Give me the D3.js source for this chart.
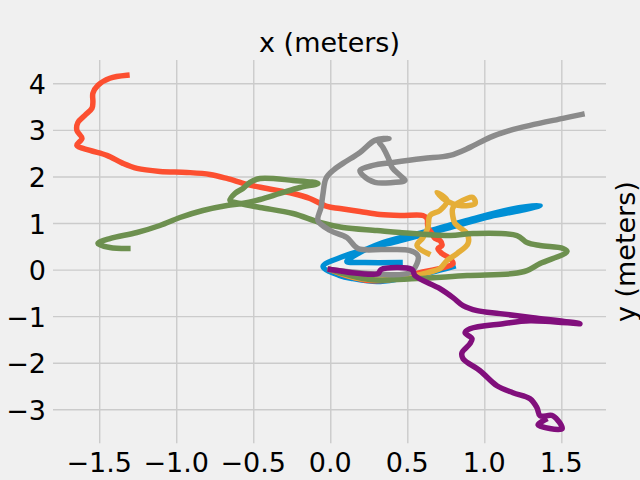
<!DOCTYPE html>
<html><head><meta charset="utf-8">
<script src="https://cdn.jsdelivr.net/npm/d3@7"></script>
<style>html,body{margin:0;padding:0;background:#f0f0f0;}svg{display:block;}</style>
</head><body>
<svg id="chart" width="640" height="480"></svg>
<script>
// ---- data (meters) ----
const xTicks = [-1.5, -1.0, -0.5, 0.0, 0.5, 1.0, 1.5];
const yTicks = [-3, -2, -1, 0, 1, 2, 3, 4];

const blueX = [0.453,0.225,0.108,0.147,0.342,0.628,0.888,1.167,1.362,1.264,1.037,0.777,0.453,0.225,0.082,-0.047,0.063,0.147,0.303,0.453,0.647,0.797];
const blueY = [0.151,0.151,0.172,0.280,0.581,0.817,1.054,1.290,1.376,1.290,1.140,0.903,0.624,0.430,0.280,0.065,-0.129,-0.194,-0.258,-0.194,-0.065,0.065];

const redX = [0,0.128,0.258,0.388,0.453,0.582,0.732,0.797,0.777,0.725,0.699,0.725,0.712,0.680,0.660,0.634,0.628,0.602,0.453,0.323,0.193,0.063,-0.021,-0.132,-0.242,-0.411,-0.541,-0.671,-0.781,-0.931,-1.106,-1.255,-1.346,-1.450,-1.560,-1.645,-1.612,-1.645,-1.638,-1.593,-1.547,-1.541,-1.541,-1.508,-1.431,-1.320];
const redY = [0,-0.151,-0.237,-0.215,-0.151,-0.065,0.043,0.129,0.237,0.344,0.452,0.516,0.624,0.667,0.774,0.903,1.097,1.161,1.161,1.183,1.247,1.312,1.355,1.527,1.634,1.742,1.828,1.957,2.043,2.086,2.108,2.172,2.280,2.452,2.559,2.667,2.817,2.989,3.161,3.312,3.462,3.591,3.785,3.957,4.108,4.172];

const yellowX = [0,0.193,0.388,0.518,0.634,0.712,0.758,0.823,0.894,0.888,0.849,0.810,0.797,0.797,0.888,0.927,0.940,0.842,0.777,0.732,0.693,0.758,0.712,0.647,0.634,0.602,0.563,0.634];
const yellowY = [0,-0.194,-0.215,-0.151,-0.065,0.022,0.194,0.344,0.559,0.774,0.882,0.989,1.118,1.333,1.527,1.548,1.419,1.376,1.441,1.527,1.656,1.484,1.269,1.161,0.903,0.688,0.516,0.344];

const greenX = [0,0.258,0.563,0.888,1.186,1.277,1.362,1.537,1.511,1.362,1.277,1.212,0.927,0.777,0.453,0.303,0.082,-0.067,-0.242,-0.456,-0.586,-0.651,-0.619,-0.567,-0.521,-0.456,-0.242,-0.080,-0.197,-0.327,-0.456,-0.573,-0.671,-0.827,-0.976,-1.106,-1.255,-1.431,-1.508,-1.431,-1.314];
const greenY = [0,-0.215,-0.194,-0.129,-0.086,-0.022,0.129,0.387,0.452,0.516,0.581,0.731,0.774,0.731,0.796,0.839,0.903,1.011,1.204,1.333,1.419,1.484,1.634,1.742,1.871,1.957,1.914,1.849,1.763,1.634,1.505,1.419,1.376,1.269,1.118,0.946,0.796,0.667,0.559,0.473,0.452];

const grayX = [0,0.355,0.518,0.563,0.569,0.518,0.342,0.180,0.108,0.0,-0.080,-0.060,-0.047,-0.028,0.018,0.082,0.193,0.290,0.381,0.316,0.342,0.375,0.401,0.453,0.485,0.407,0.290,0.212,0.193,0.277,0.407,0.602,0.777,0.907,1.037,1.167,1.297,1.511,1.634];
const grayY = [0,-0.108,-0.065,0.129,0.301,0.409,0.430,0.452,0.688,0.839,1.054,1.333,1.634,1.957,2.129,2.280,2.516,2.774,2.817,2.753,2.624,2.409,2.194,2.022,1.914,1.871,1.871,2.022,2.129,2.237,2.301,2.387,2.452,2.624,2.839,2.989,3.097,3.247,3.333];

const purpleX = [0,0.310,0.329,0.531,0.550,0.712,0.797,0.862,0.953,1.102,1.316,1.621,1.297,1.121,0.907,0.875,0.920,0.907,0.855,0.862,0.972,1.082,1.186,1.297,1.342,1.362,1.446,1.505,1.349,1.394];
const purpleY = [0,-0.086,0.0,0.0,-0.129,-0.409,-0.602,-0.774,-0.882,-0.946,-1.032,-1.161,-1.097,-1.161,-1.269,-1.355,-1.484,-1.591,-1.785,-1.914,-2.172,-2.495,-2.645,-2.774,-2.968,-3.140,-3.140,-3.419,-3.333,-3.226];

const seriesNames = ["blue","red","yellow","green","gray","purple"];
const seriesX = [blueX, redX, yellowX, greenX, grayX, purpleX];
const seriesY = [blueY, redY, yellowY, greenY, grayY, purpleY];
const colors = ["#008fd5","#fc4f30","#e5ae38","#6d904f","#8b8b8b","#810f7c"];

// ---- layout ----
const L = 53, R = 606, T = 60, B = 443.3;
const svg = d3.select("#chart");
svg.append("rect").attr("width",640).attr("height",480).attr("fill","#f0f0f0");

const x = d3.scaleLinear().domain([-1.80, 1.79]).range([L, R]);
const y = d3.scaleLinear().domain([-3.73, 4.50]).range([B, T]);

const font = "DejaVu Sans, sans-serif";

// grid via axes
const gx = svg.append("g").attr("transform", `translate(0,${B})`)
  .call(d3.axisBottom(x).tickValues(xTicks).tickSize(-(B - T)).tickFormat(""));
const gy = svg.append("g").attr("transform", `translate(${L},0)`)
  .call(d3.axisLeft(y).tickValues(yTicks).tickSize(-(R - L)).tickFormat(""));
[gx, gy].forEach(g => {
  g.select(".domain").remove();
  g.selectAll(".tick line").attr("stroke", "#cbcbcb").attr("stroke-width", 1.4);
});

const fmtX = d => (d < 0 ? "\u2212" : "") + Math.abs(d).toFixed(1);
const fmtY = d => (d < 0 ? "\u2212" : "") + Math.abs(d);

svg.append("g").selectAll("text").data(xTicks).join("text")
  .attr("x", d => x(d)).attr("y", 472)
  .attr("text-anchor", "middle").attr("font-family", font).attr("font-size", 27)
  .attr("fill", "#000").text(fmtX);
svg.append("g").selectAll("text").data(yTicks).join("text")
  .attr("x", 46).attr("y", d => y(d) + 10.5)
  .attr("text-anchor", "end").attr("font-family", font).attr("font-size", 27)
  .attr("fill", "#000").text(fmtY);

// lines
const line = d3.line().x(d => x(d[0])).y(d => y(d[1])).curve(d3.curveCatmullRom.alpha(0.5));
const plot = svg.append("g");
seriesNames.forEach((n, i) => {
  const pts = seriesX[i].map((v, j) => [v, seriesY[i][j]]);
  plot.append("path").datum(pts)
    .attr("d", line).attr("fill", "none").attr("stroke", colors[i])
    .attr("stroke-width", 5.5).attr("stroke-linecap", "square").attr("stroke-linejoin", "round");
});

// labels
svg.append("text").attr("x", (L + R) / 2).attr("y", 52)
  .attr("text-anchor", "middle").attr("font-family", font).attr("font-size", 27)
  .attr("fill", "#000").text("x (meters)");
svg.append("text").attr("transform", `translate(635,${(T + B) / 2}) rotate(-90)`)
  .attr("text-anchor", "middle").attr("font-family", font).attr("font-size", 27)
  .attr("fill", "#000").text("y (meters)");
</script>
</body></html>
